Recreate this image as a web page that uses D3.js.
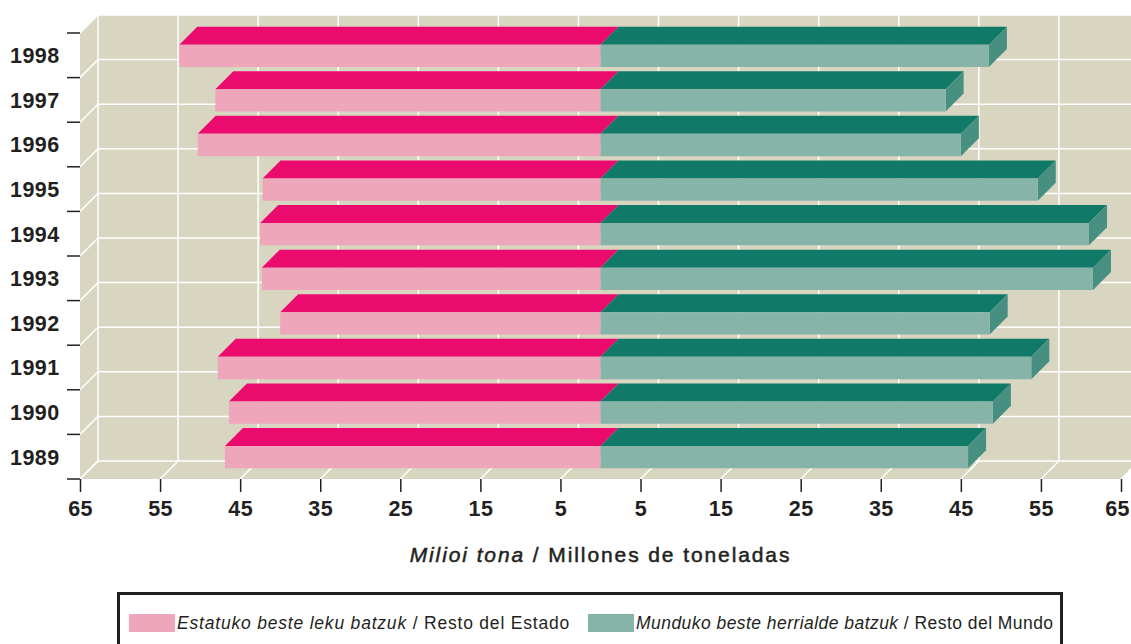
<!DOCTYPE html>
<html><head><meta charset="utf-8">
<script src="https://cdn.jsdelivr.net/npm/d3@7"></script>
<style>
html,body{margin:0;padding:0;background:#fff;}
svg{display:block;font-family:"Liberation Sans",Arial,Helvetica,sans-serif;}
</style></head>
<body>
<svg id="chart" width="1131" height="644"></svg>
<script>
const years = ["1998","1997","1996","1995","1994","1993","1992","1991","1990","1989"];
const restoEstado = [52.6, 48.1, 50.3, 42.2, 42.5, 42.3, 40.0, 47.8, 46.4, 46.9];
const restoMundo  = [48.5, 43.1, 45.0, 54.6, 61.0, 61.5, 48.6, 53.8, 49.0, 45.9];
const xTickValues = [-65,-55,-45,-35,-25,-15,-5,5,15,25,35,45,55,65];
const seriesNames = [
  ["Estatuko beste leku batzuk", " / Resto del Estado"],
  ["Munduko beste herrialde batzuk", " / Resto del Mundo"]
];

const C = {
  bg:"#D8D5C1", grid:"#FFFFFF",
  pinkFront:"#EEA6BA", pinkTop:"#EB0A6E",
  greenFront:"#86B4A9", greenTop:"#107968", greenSide:"#478F80",
  text:"#231F20"
};
const D = 18; // depth offset
const svg = d3.select("#chart");
const x = d3.scaleLinear().domain([-65,65]).range([80,1121]);
const y = d3.scaleBand().domain(years).range([33,479]).padding(0);
const top0 = 33, bot0 = 479, left0 = x(-65), right0 = x(65);

svg.append("rect").attr("x", left0 + D).attr("y", top0 - D)
  .attr("width", right0 - left0).attr("height", bot0 - top0).attr("fill", C.bg);
svg.append("polygon").attr("points", [[left0,top0],[left0+D,top0-D],[left0+D,bot0-D],[left0,bot0]].join(" "))
  .attr("fill", C.bg);
svg.append("polygon").attr("points", [[left0,bot0],[left0+D,bot0-D],[right0+D,bot0-D],[right0,bot0]].join(" "))
  .attr("fill", C.bg);

const g = svg.append("g");
const yEdges = years.map(d => y(d)).concat([bot0]);
yEdges.forEach(yy => {
  g.append("line").attr("x1", left0 + D).attr("x2", right0 + D).attr("y1", yy - D).attr("y2", yy - D)
    .attr("stroke", C.grid).attr("stroke-width", 1.5);
  g.append("line").attr("x1", left0).attr("y1", yy).attr("x2", left0 + D).attr("y2", yy - D)
    .attr("stroke", C.grid).attr("stroke-width", 1.5);
});
xTickValues.forEach(v => {
  const xx = x(v);
  g.append("line").attr("x1", xx + D).attr("x2", xx + D).attr("y1", top0 - D).attr("y2", bot0 - D)
    .attr("stroke", C.grid).attr("stroke-width", 1.5);
  g.append("line").attr("x1", xx).attr("y1", bot0).attr("x2", xx + D).attr("y2", bot0 - D)
    .attr("stroke", C.grid).attr("stroke-width", 1.5);
});

const bw = y.bandwidth();
const bars = svg.append("g");
years.forEach((yr, i) => {
  const yT = y(yr) + bw * 0.25 + 0.5, yB = y(yr) + bw * 0.75 + 0.5;
  const xl = x(-restoEstado[i]), x0 = x(0), xr = x(restoMundo[i]);
  const poly = (pts, fill) => bars.append("polygon").attr("points", pts.map(p => p.join(",")).join(" ")).attr("fill", fill);
  poly([[xl,yT],[xl+D,yT-D],[x0+D,yT-D],[x0,yT]], C.pinkTop);
  poly([[xl,yT],[x0,yT],[x0,yB],[xl,yB]], C.pinkFront);
  poly([[x0,yT],[x0+D,yT-D],[xr+D,yT-D],[xr,yT]], C.greenTop);
  poly([[xr,yT],[xr+D,yT-D],[xr+D,yB-D],[xr,yB]], C.greenSide);
  poly([[x0,yT],[xr,yT],[xr,yB],[x0,yB]], C.greenFront);
});

const ax = svg.append("g");
yEdges.forEach(yy => {
  ax.append("line").attr("x1", 67).attr("x2", left0).attr("y1", yy).attr("y2", yy)
    .attr("stroke", C.text).attr("stroke-width", 1.5);
});
years.forEach(yr => {
  ax.append("text").attr("x", 59.5).attr("y", y(yr) + bw / 2 + 7.8)
    .attr("text-anchor", "end").attr("font-size", 21.5).attr("font-weight", "bold")
    .attr("letter-spacing", 0.4)
    .attr("fill", C.text).text(yr);
});

const xAxis = d3.axisBottom(x).tickValues(xTickValues).tickFormat(d => Math.abs(d))
  .tickSize(13).tickSizeOuter(0).tickPadding(9);
const xg = svg.append("g").attr("transform", `translate(0,${bot0})`).call(xAxis);
xg.select(".domain").remove();
xg.selectAll(".tick line").attr("stroke", C.text).attr("stroke-width", 1.5);
xg.selectAll(".tick text").attr("font-size", 21.5).attr("font-weight", "bold")
  .attr("letter-spacing", 0.4)
  .attr("fill", C.text).attr("font-family", "Liberation Sans, Arial, sans-serif");
xg.selectAll(".tick text").filter(d => d === 65).attr("dx", -4);

const t = svg.append("text").attr("x", x(0)).attr("y", 562).attr("text-anchor", "middle")
  .attr("font-size", 21).attr("fill", C.text).attr("letter-spacing", 1.9)
  .attr("stroke", C.text).attr("stroke-width", 0.5);
t.append("tspan").attr("font-style", "italic").text("Milioi tona");
t.append("tspan").text(" / Millones de toneladas");

svg.append("rect").attr("x", 118.5).attr("y", 593.5).attr("width", 943).attr("height", 70)
  .attr("fill", "none").attr("stroke", C.text).attr("stroke-width", 3);
const legendX = [129, 588];
const legendSpacing = [0.8, 0.45];
const legendColors = [C.pinkFront, C.greenFront];
seriesNames.forEach((nm, i) => {
  svg.append("rect").attr("x", legendX[i]).attr("y", 614).attr("width", 46).attr("height", 18)
    .attr("fill", legendColors[i]);
  const lt = svg.append("text").attr("x", legendX[i] + 48).attr("y", 629)
    .attr("font-size", 17.5).attr("fill", C.text).attr("letter-spacing", legendSpacing[i]);
  lt.append("tspan").attr("font-style", "italic").text(nm[0]);
  lt.append("tspan").text(nm[1]);
});
</script>
</body></html>
